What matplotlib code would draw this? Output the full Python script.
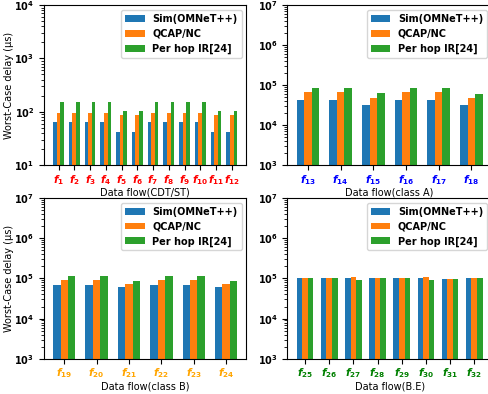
import numpy as np
import matplotlib
matplotlib.use('Agg')
import matplotlib.pyplot as plt

# data (us)
flows_st = [f'{i}' for i in range(1, 13)]
sim_st = [64, 64, 64, 64, 42, 42, 64, 64, 64, 64, 42, 42]
qcap_st = [95, 95, 95, 95, 87, 87, 95, 95, 95, 95, 87, 87]
ir_st = [152, 152, 152, 152, 103, 103, 152, 152, 152, 152, 103, 103]

flows_a = [f'{i}' for i in range(13, 19)]
sim_a = [42000, 42000, 32000, 42000, 42000, 32000]
qcap_a = [67000, 67000, 47000, 67000, 67000, 47000]
ir_a = [84000, 84000, 63000, 84000, 84000, 59000]

flows_b = [f'{i}' for i in range(19, 25)]
sim_b = [68000, 68000, 61000, 68000, 68000, 61000]
qcap_b = [90000, 90000, 72000, 90000, 90000, 72000]
ir_b = [115000, 115000, 86000, 115000, 115000, 86000]

flows_be = [f'{i}' for i in range(25, 33)]
sim_be = [101000, 101000, 101000, 101000, 101000, 101000, 96000, 101000]
qcap_be = [101000, 101000, 108000, 101000, 101000, 108000, 96000, 101000]
ir_be = [101000, 101000, 91000, 101000, 101000, 91000, 96000, 101000]

labels = ['Sim(OMNeT++)', 'QCAP/NC', 'Per hop IR[24]']

panels = [
    (flows_st, sim_st, qcap_st, ir_st, 'red', 'Data flow(CDT/ST)', (10, 1e4)),
    (flows_a, sim_a, qcap_a, ir_a, 'blue', 'Data flow(class A)', (1e3, 1e7)),
    (flows_b, sim_b, qcap_b, ir_b, 'orange', 'Data flow(class B)', (1e3, 1e7)),
    (flows_be, sim_be, qcap_be, ir_be, 'green', 'Data flow(B.E)', (1e3, 1e7)),
]

# axes boxes in figure fractions (left, bottom, width, height)
# right column runs slightly past the edge, as in the cropped original
boxes = [
    (0.090, 0.581, 0.415, 0.406),
    (0.589, 0.581, 0.419, 0.406),
    (0.090, 0.089, 0.415, 0.409),
    (0.589, 0.089, 0.419, 0.409),
]

fs = 7
fig = plt.figure(figsize=(4.88, 3.94), dpi=100)
w = 0.23
for k, (flows, s1, s2, s3, col, xlab, ylim) in enumerate(panels):
    ax = fig.add_axes(boxes[k])
    x = np.arange(len(flows))
    ax.bar(x - w, s1, w, label=labels[0])
    ax.bar(x, s2, w, label=labels[1])
    ax.bar(x + w, s3, w, label=labels[2])
    ax.set_yscale('log')
    ax.set_ylim(*ylim)
    ax.set_xticks(x)
    ax.set_xticklabels([r'$\boldsymbol{f}_{\mathbf{%s}}$' % f for f in flows],
                       color=col, fontsize=7.5)
    for t in ax.get_yticklabels():
        t.set_fontweight('bold')
    ax.tick_params(axis='y', labelsize=fs)
    ax.tick_params(axis='x', pad=2)
    ax.set_xlabel(xlab, fontsize=fs, labelpad=1)
    if k % 2 == 0:
        ax.set_ylabel('Worst-Case delay (μs)', fontsize=fs)
        ax.yaxis.set_label_coords(-0.15, 0.5)
    ax.legend(loc='upper right', prop={'weight': 'bold', 'size': fs})

plt.savefig('out.png', dpi=100)
